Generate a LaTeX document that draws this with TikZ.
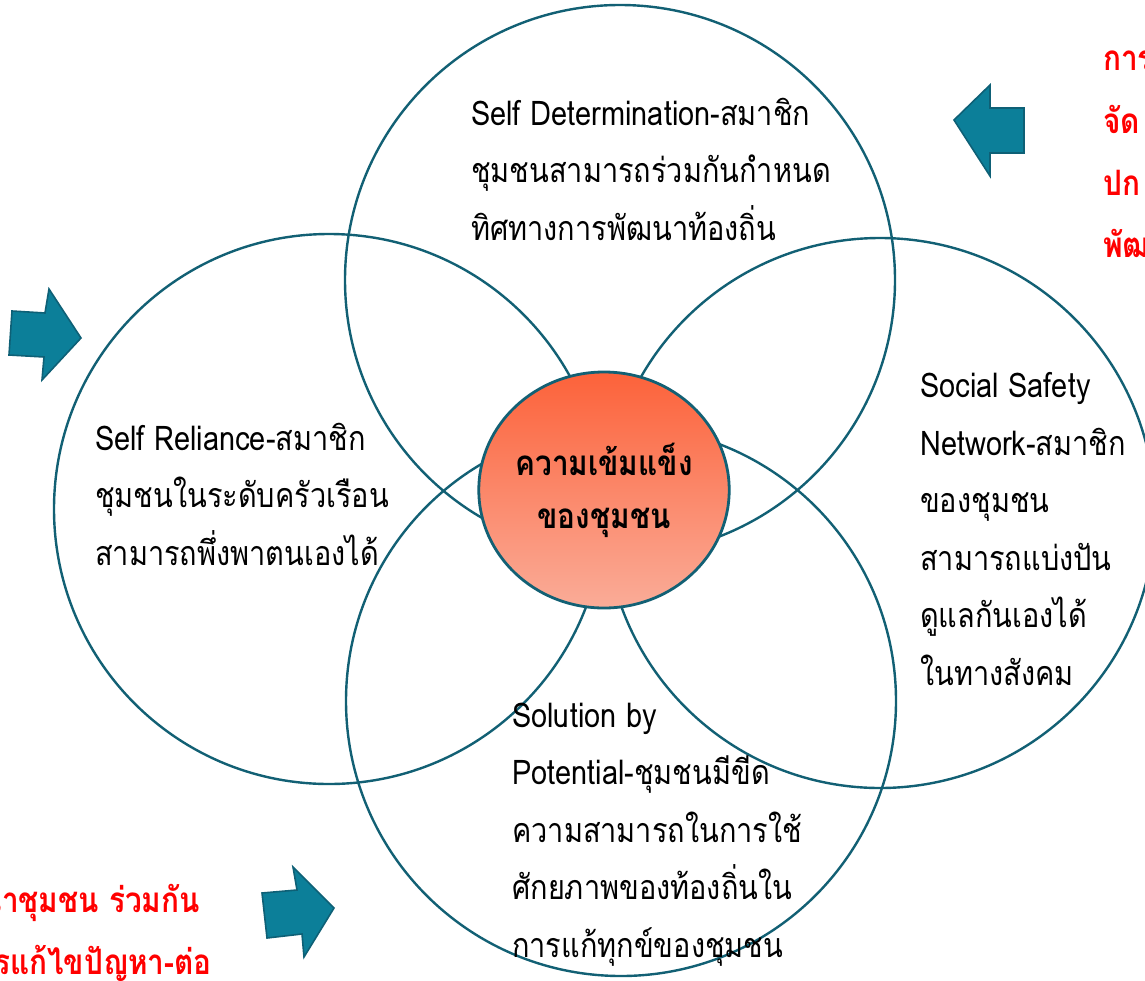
\documentclass[tikz,border=0pt]{standalone}
\usepackage{fontspec}
\usetikzlibrary{shapes.geometric}
\newfontfamily\thai[Script=Thai,FakeStretch=0.85]{Loma}
\definecolor{ring}{RGB}{18,96,116}
\definecolor{arrowfill}{RGB}{12,127,153}
\definecolor{arrowline}{RGB}{14,96,118}
\definecolor{coretop}{RGB}{252,98,58}
\definecolor{corebot}{RGB}{250,172,152}
\definecolor{redtext}{RGB}{255,0,0}
\tikzset{
  ringbox/.style={circle, draw=ring, line width=2.4pt, minimum size=550pt, inner sep=0pt},
  corebox/.style={ellipse, draw=ring, line width=2.8pt, minimum width=250pt, minimum height=236pt, inner sep=0pt,
    top color=coretop, bottom color=corebot, font=\thai\bfseries\fontsize{35}{55}\selectfont, align=center},
  bodytext/.style={font=\thai\fontsize{34}{57.5}\selectfont, align=left, anchor=base west, inner sep=0pt},
  redlabel/.style={font=\thai\bfseries\fontsize{35}{62}\selectfont, text=redtext, inner sep=0pt},
  blockarrow/.style={fill=arrowfill, draw=arrowline, line width=1.6pt, line join=miter}
}
\begin{document}
\begin{tikzpicture}[x=1pt,y=-1pt]
\useasboundingbox (0,0) rectangle (1145,980);
\fill[white] (0,0) rectangle (1145,980);
% four rings
\node[ringbox] (topring) at (620,280) {};
\node[ringbox] (leftring) at (329,509) {};
\node[ringbox] (rightring) at (880,513) {};
\node[ringbox] (bottomring) at (621,701) {};
% centre
\node[corebox] (core) at (604,490) {ความเข้มแข็ง\\[-2pt]ของชุมชน};
% ring texts (anchor = baseline of the last line)
\node[bodytext] (toptext) at (471,240) {Self Determination-สมาชิก\\ชุมชนสามารถร่วมกันกำหนด\\ทิศทางการพัฒนาท้องถิ่น};
\node[bodytext] (lefttext) at (95,565) {Self Reliance-สมาชิก\\ชุมชนในระดับครัวเรือน\\สามารถพึ่งพาตนเองได้};
\node[bodytext] (righttext) at (920,685) {Social Safety\\Network-สมาชิก\\ของชุมชน\\สามารถแบ่งปัน\\ดูแลกันเองได้\\ในทางสังคม};
\node[bodytext] (bottomtext) at (512,957) {Solution by\\Potential-ชุมชนมีขีด\\ความสามารถในการใช้\\ศักยภาพของท้องถิ่นใน\\การแก้ทุกข์ของชุมชน};
% red side texts
\node[redlabel, anchor=base west] (red1) at (1103,70) {การ};
\node[redlabel, anchor=base west] (red2) at (1103,133) {จัด};
\node[redlabel, anchor=base west] (red3) at (1103,195) {ปก};
\node[redlabel, anchor=base west] (red4) at (1103,257) {พัฒ};
\node[redlabel, anchor=base east] (red5) at (200,912) {นำชุมชน ร่วมกัน};
\node[redlabel, anchor=base east] (red6) at (212,974) {การแก้ไขปัญหา-ต่อ};
% block arrows
\draw[blockarrow] (954,120) -- (990,85) -- (990,108) -- (1024,108) -- (1024,153) -- (990,153) -- (990,176) -- cycle;
\draw[blockarrow] (12,311) -- (45,313) -- (49,289) -- (81,338) -- (42,380) -- (44,357) -- (9,355) -- cycle;
\draw[blockarrow] (262,893) -- (297,890) -- (293,867) -- (334,908) -- (304,957) -- (302,934) -- (267,938) -- cycle;
\end{tikzpicture}
\end{document}
